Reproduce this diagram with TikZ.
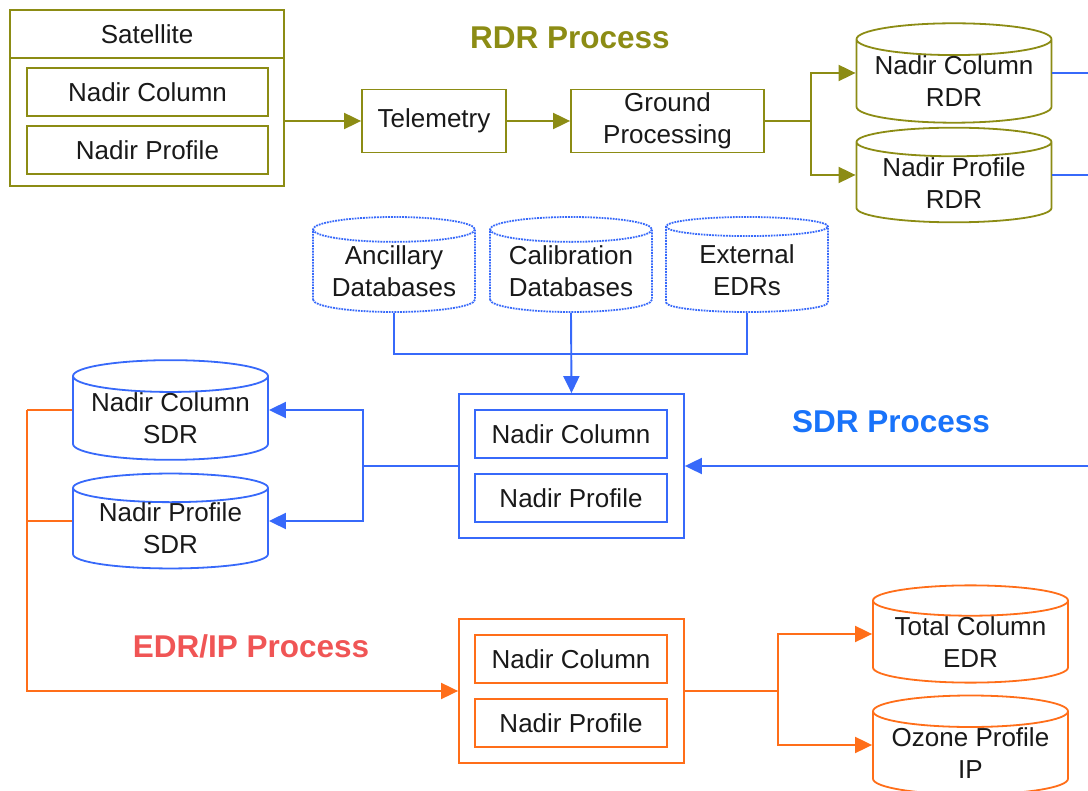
\documentclass[tikz,border=0pt]{standalone}
\usepackage{fontspec}
\setmainfont{Liberation Sans}
\usepackage{tikz}
\usetikzlibrary{arrows.meta,positioning,shapes.geometric,calc}
\definecolor{rdrolive}{RGB}{140,140,20}
\definecolor{sdrblue}{RGB}{55,105,250}
\definecolor{sdrtext}{RGB}{25,115,250}
\definecolor{edrorange}{RGB}{255,110,25}
\definecolor{edrred}{RGB}{240,85,85}

\begin{document}
\begin{tikzpicture}[x=1pt, y=-1pt,
  font=\fontsize{26}{32}\selectfont,
  box/.style={rectangle, draw, line width=1.8pt, inner sep=0pt, align=center, text=black!90},
  drum/.style={cylinder, shape border rotate=90, aspect=0.2, anchor=shape center, draw, fill=white, line width=1.8pt, inner sep=0pt, minimum width=195pt, minimum height=92pt, align=center, text=black!90},
  title/.style={font=\fontsize{31.5}{36}\selectfont\bfseries},
  line/.style={draw, line width=1.9pt},
  arrow/.style={line, -{Triangle[length=17pt,width=16pt]}}]
  \useasboundingbox (0,0) rectangle (1088,791);

  % RDR process
  \node [box, draw=rdrolive, minimum width=274pt, minimum height=176pt] (sat) at (147,98) {};
  \node [text=black!90, minimum height=48pt] (sattitle) at (147,34) {Satellite};
  \node [box, draw=rdrolive, minimum width=241pt, minimum height=48pt] (satcol) at (147.5,92) {Nadir Column};
  \node [box, draw=rdrolive, minimum width=241pt, minimum height=48pt] (satprof) at (147.5,150) {Nadir Profile};
  \node [box, draw=rdrolive, minimum width=144pt, minimum height=63pt] (tele) at (434,121) {Telemetry};
  \node [box, draw=rdrolive, minimum width=193pt, minimum height=63pt] (ground) at (667.5,121) {Ground\\Processing};
  \node [drum, draw=rdrolive] (rdrcol) at (954,73) {Nadir Column\\RDR};
  \node [drum, draw=rdrolive, minimum height=91pt] (rdrprof) at (954,175) {Nadir Profile\\RDR};
  \node [title, text=rdrolive] (rdrlabel) at (570,38) {RDR Process};
  \coordinate (rsplit) at (811,121);
  \coordinate (edge) at (1088,0);

  \path [line, rdrolive] (sat.west |- sattitle.south) -- (sat.east |- sattitle.south);
  \path [arrow, rdrolive] (sat.east |- tele.west) -- (tele.west);
  \path [arrow, rdrolive] (tele) -- (ground);
  \path [line, rdrolive] (ground.east) -- (rsplit);
  \path [arrow, rdrolive] (rsplit) |- (rdrcol.shape center -| rdrcol.west);
  \path [arrow, rdrolive] (rsplit) |- (rdrprof.shape center -| rdrprof.west);
  \path [line, sdrblue] (rdrcol.shape center -| rdrcol.east) -- (rdrcol.shape center -| edge);
  \path [line, sdrblue] (rdrprof.shape center -| rdrprof.east) -- (rdrprof.shape center -| edge);

  % SDR process
  \node [drum, draw=sdrblue, densely dotted, minimum width=162pt, minimum height=95pt] (anc) at (394,264.5) {Ancillary\\Databases};
  \node [drum, draw=sdrblue, densely dotted, minimum width=162pt, minimum height=95pt] (cal) at (571,264.5) {Calibration\\Databases};
  \node [drum, draw=sdrblue, densely dotted, minimum width=162pt, minimum height=95pt] (ext) at (747,264.5) {External\\EDRs};
  \node [box, draw=sdrblue, minimum width=225pt, minimum height=144pt] (sdr) at (571.5,466) {};
  \node [box, draw=sdrblue, minimum width=192pt, minimum height=48pt] (sdrcol) at (571,434) {Nadir Column};
  \node [box, draw=sdrblue, minimum width=192pt, minimum height=48pt] (sdrprof) at (571,498) {Nadir Profile};
  \node [drum, draw=sdrblue] (sdrcolc) at (170.5,410) {Nadir Column\\SDR};
  \node [drum, draw=sdrblue, minimum height=93pt] (sdrprofc) at (170.5,521) {Nadir Profile\\SDR};
  \node [title, text=sdrtext] (sdrlabel) at (891,422) {SDR Process};
  \coordinate (junc) at (571,354);
  \coordinate (ssplit) at (363,466);

  \path [line, sdrblue] (anc.south) |- (junc) -| (ext.south);
  \path [arrow, sdrblue] (cal.south) -- (sdr.north);
  \path [arrow, sdrblue] (sdr.east -| edge) -- (sdr.east);
  \path [line, sdrblue] (sdr.west) -- (ssplit);
  \path [arrow, sdrblue] (ssplit) |- (sdrcolc.shape center -| sdrcolc.east);
  \path [arrow, sdrblue] (ssplit) |- (sdrprofc.shape center -| sdrprofc.east);

  % EDR/IP process
  \node [box, draw=edrorange, minimum width=225pt, minimum height=144pt] (edr) at (571.5,691) {};
  \node [box, draw=edrorange, minimum width=192pt, minimum height=48pt] (edrcol) at (571,659) {Nadir Column};
  \node [box, draw=edrorange, minimum width=192pt, minimum height=48pt] (edrprof) at (571,723) {Nadir Profile};
  \node [drum, draw=edrorange, minimum height=90pt] (totc) at (970.5,634) {Total Column\\EDR};
  \node [drum, draw=edrorange, minimum height=88pt] (ozc) at (970.5,745) {Ozone Profile\\IP};
  \node [title, text=edrred] (edrlabel) at (251,646) {EDR/IP Process};
  \coordinate (oleft) at (27,410);
  \coordinate (esplit) at (778,691);

  \path [line, edrorange] (sdrcolc.shape center -| sdrcolc.west) -- (sdrcolc.shape center -| oleft);
  \path [line, edrorange] (sdrprofc.shape center -| sdrprofc.west) -- (sdrprofc.shape center -| oleft);
  \path [arrow, edrorange] (sdrcolc.shape center -| oleft) |- (edr.west);
  \path [line, edrorange] (edr.east) -- (esplit);
  \path [arrow, edrorange] (esplit) |- (totc.shape center -| totc.west);
  \path [arrow, edrorange] (esplit) |- (ozc.shape center -| ozc.west);
\end{tikzpicture}
\end{document}
